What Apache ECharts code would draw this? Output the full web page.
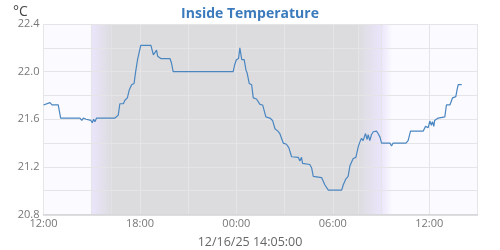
<!DOCTYPE html>
<html><head><meta charset="utf-8">
<script src="https://cdn.jsdelivr.net/npm/echarts@6/dist/echarts.min.js"></script>
<style>html,body{margin:0;padding:0;background:#fff}#c{width:500px;height:250px}</style>
</head><body><div id="c"></div>
<script>
// Time stamps (month-day hour:minute) and inside temperature (°C)
const times = ["12-15 12:00","12-15 12:24","12-15 12:32","12-15 12:55","12-15 13:04","12-15 14:16","12-15 14:23","12-15 14:29","12-15 14:39","12-15 14:46","12-15 14:57","12-15 15:02","12-15 15:07","12-15 15:12","12-15 15:18","12-15 16:27","12-15 16:31","12-15 16:39","12-15 16:45","12-15 16:58","12-15 17:04","12-15 17:13","12-15 17:20","12-15 17:29","12-15 17:38","12-15 17:44","12-15 17:48","12-15 17:51","12-15 17:56","12-15 18:03","12-15 18:41","12-15 18:50","12-15 18:56","12-15 19:02","12-15 19:06","12-15 19:11","12-15 19:18","12-15 19:52","12-15 19:58","12-15 20:04","12-15 23:48","12-15 23:54","12-16 00:00","12-16 00:08","12-16 00:13","12-16 00:20","12-16 00:29","12-16 00:36","12-16 00:40","12-16 00:48","12-16 00:57","12-16 01:03","12-16 01:15","12-16 01:28","12-16 01:38","12-16 01:50","12-16 02:05","12-16 02:15","12-16 02:24","12-16 02:35","12-16 02:42","12-16 02:48","12-16 02:55","12-16 03:07","12-16 03:16","12-16 03:26","12-16 03:51","12-16 03:57","12-16 04:03","12-16 04:07","12-16 04:12","12-16 04:34","12-16 04:41","12-16 04:47","12-16 05:18","12-16 05:30","12-16 05:43","12-16 06:33","12-16 06:39","12-16 06:49","12-16 06:57","12-16 07:04","12-16 07:10","12-16 07:16","12-16 07:26","12-16 07:35","12-16 07:41","12-16 07:47","12-16 07:53","12-16 08:02","12-16 08:08","12-16 08:12","12-16 08:18","12-16 08:24","12-16 08:31","12-16 08:43","12-16 08:49","12-16 08:56","12-16 09:02","12-16 09:33","12-16 09:39","12-16 09:45","12-16 10:33","12-16 10:41","12-16 10:50","12-16 11:37","12-16 11:46","12-16 11:52","12-16 11:56","12-16 12:02","12-16 12:08","12-16 12:12","12-16 12:17","12-16 12:20","12-16 12:27","12-16 12:33","12-16 12:39","12-16 12:58","12-16 13:04","12-16 13:17","12-16 13:23","12-16 13:27","12-16 13:39","12-16 13:44","12-16 13:48","12-16 14:01"];
const temps = [21.72,21.74,21.72,21.72,21.61,21.61,21.59,21.61,21.60,21.61,21.59,21.57,21.60,21.58,21.61,21.61,21.60,21.635,21.73,21.73,21.76,21.78,21.845,21.89,21.90,22.00,22.01,22.10,22.11,22.22,22.22,22.14,22.13,22.18,22.13,22.12,22.11,22.11,22.07,22.00,22.00,22.06,22.10,22.11,22.20,22.10,22.10,22.01,21.99,21.90,21.89,21.78,21.77,21.725,21.72,21.62,21.61,21.59,21.52,21.50,21.48,21.49,21.40,21.39,21.36,21.285,21.28,21.25,21.28,21.23,21.23,21.22,21.19,21.12,21.11,21.05,21.005,21.005,21.05,21.10,21.12,21.21,21.22,21.27,21.28,21.37,21.41,21.44,21.42,21.48,21.43,21.47,21.42,21.47,21.495,21.50,21.48,21.45,21.40,21.40,21.375,21.40,21.40,21.42,21.50,21.50,21.54,21.55,21.53,21.585,21.55,21.58,21.54,21.59,21.585,21.61,21.605,21.62,21.72,21.72,21.73,21.78,21.79,21.85,21.89,21.89];
const xTickLabels = {0:"12:00",6:"18:00",12:"00:00",18:"06:00",24:"12:00"};
const yTickLabels = {"20.8":"20.8","21.2":"21.2","21.6":"21.6","22.0":"22.0","22.4":"22.4"};
const titleText = "Inside Temperature";
const unitText = "°C";
const dateText = "12/16/25 14:05:00";
// Daylight shading boundaries (hours after 12-15 12:00)
const duskStart = 3, duskEnd = 4.25, dawnStart = 19.6, dawnEnd = 21, dayFadeEnd = 21.7, rangeEnd = 27;

function toHours(s){
  const [md, hm] = s.split(" ");
  const day = +md.split("-")[1];
  const [h, m] = hm.split(":").map(Number);
  return (day - 15) * 24 + h + m / 60 - 12;
}
const data = times.map((t, i) => [toHours(t), temps[i]]);

const DAY = '#fbfaff', LAV = '#ebe5fb', GRAY = '#dcdcdf';
const grad = (a, b) => ({type:'linear', x:0, y:0, x2:1, y2:0, colorStops:[{offset:0,color:a},{offset:1,color:b}]});

const chart = echarts.init(document.getElementById('c'), null, {renderer:'canvas'});
chart.setOption({
  animation:false,
  textStyle:{fontFamily:'Open Sans'},
  title:[
    {text:titleText, left:'center', top:2, textStyle:{color:'#3b7bbd', fontSize:14, fontWeight:'bold', fontFamily:'Open Sans'}},
    {text:unitText, left:8, top:0, textStyle:{color:'#444', fontSize:14, fontWeight:'normal', fontFamily:'Open Sans'}},
    {text:dateText, left:'center', top:231, textStyle:{color:'#666', fontSize:12.5, fontWeight:'normal', fontFamily:'Open Sans'}}
  ],
  grid:{left:43.5, right:22.5, top:24, bottom:35.5},
  xAxis:{type:'value', min:0, max:rangeEnd, interval:3,
    axisLine:{show:true, lineStyle:{color:'#d4d4d6', width:1.5}}, axisTick:{show:false},
    splitLine:{show:true, lineStyle:{color:'#e5e5e7', width:1}},
    axisLabel:{color:'#777', fontSize:11, margin:4, formatter:v => xTickLabels[v] || ''}},
  yAxis:{type:'value', min:20.8, max:22.4, interval:0.2,
    axisLine:{show:false}, axisTick:{show:false},
    splitLine:{show:true, lineStyle:{color:'#e5e5e7', width:1}},
    axisLabel:{color:'#777', fontSize:11, margin:4, formatter:v => yTickLabels[v.toFixed(1)] || ''}},
  series:[
    {type:'line', data:[], silent:true,
     markArea:{silent:true, z:-1, data:[
       [{xAxis:0, itemStyle:{color:DAY}},{xAxis:duskStart}],
       [{xAxis:duskStart, itemStyle:{color:grad(LAV, GRAY)}},{xAxis:duskEnd}],
       [{xAxis:duskEnd, itemStyle:{color:GRAY}},{xAxis:dawnStart}],
       [{xAxis:dawnStart, itemStyle:{color:grad(GRAY, LAV)}},{xAxis:dawnEnd}],
       [{xAxis:dawnEnd, itemStyle:{color:grad(LAV, DAY)}},{xAxis:dayFadeEnd}],
       [{xAxis:dayFadeEnd, itemStyle:{color:DAY}},{xAxis:rangeEnd}]
     ]}},
    {type:'line', data:data, showSymbol:false, symbol:'none', z:5,
     lineStyle:{color:'#4a86c0', width:1.2}}
  ]
});
</script></body></html>
